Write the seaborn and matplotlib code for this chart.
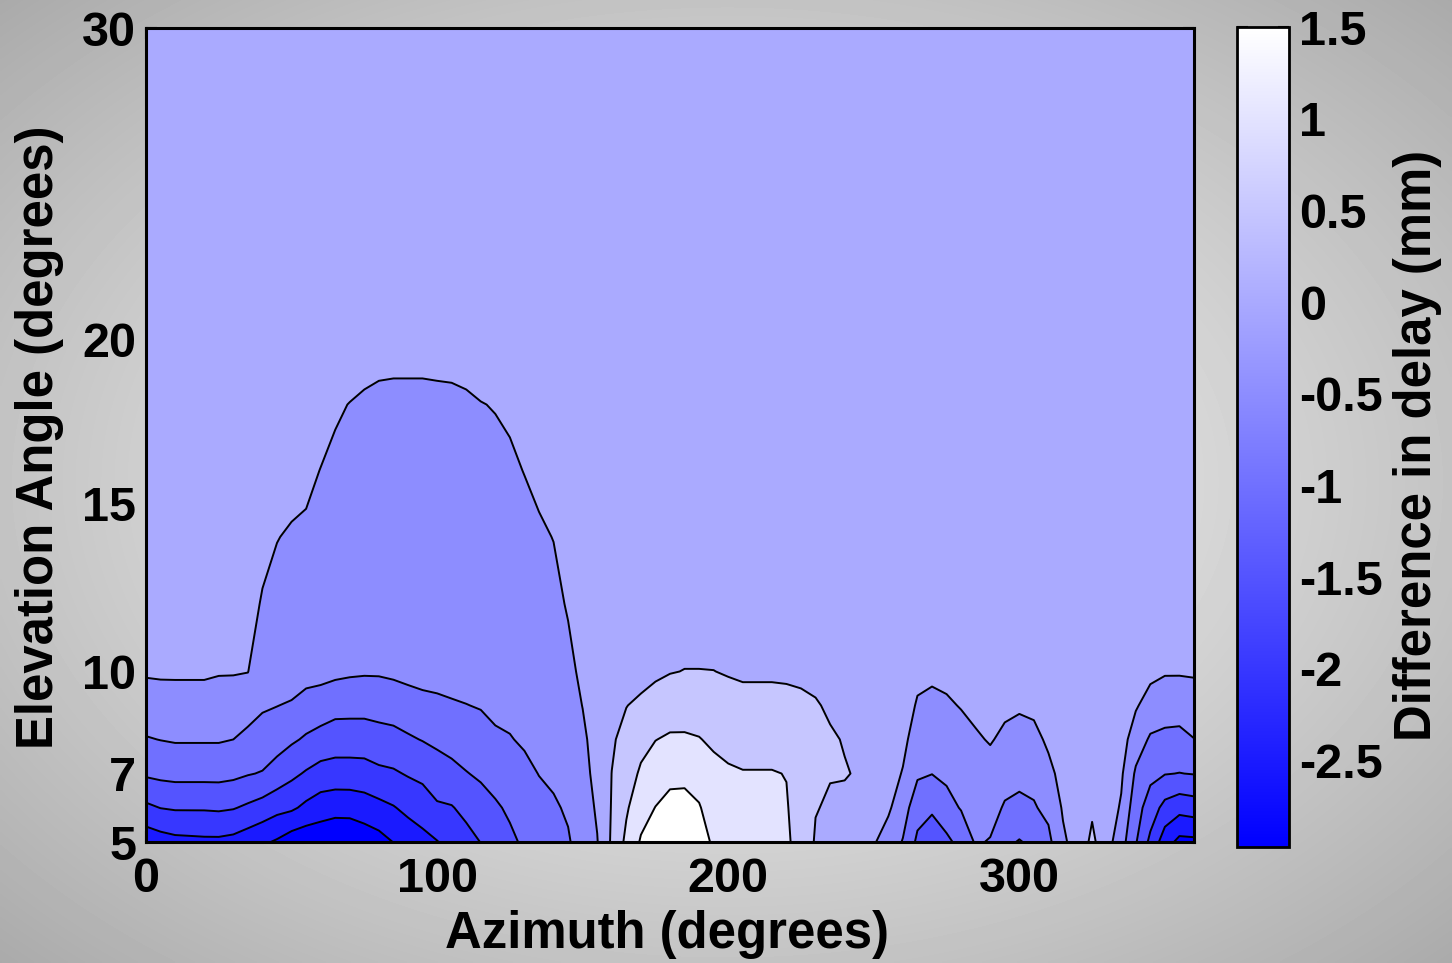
import numpy as np
import matplotlib
matplotlib.use("Agg")
import matplotlib.pyplot as plt
import seaborn as sns
from matplotlib.colors import Normalize
from matplotlib.cm import ScalarMappable
from matplotlib.ticker import FormatStrFormatter, NullLocator

# ---------------------------------------------------------------------------
# Delay difference (mm) on an azimuth x elevation grid
# ---------------------------------------------------------------------------
azimuth = np.arange(0, 361, 5)                       # degrees, 73 columns
elevation = [5, 6, 7, 8, 9, 10, 12, 14, 16, 18, 20, 30]  # degrees

el05 = [-2.33, -2.22, -2.14, -2.12, -2.10, -2.10, -2.15, -2.28, -2.42, -2.56, -2.77, -2.85,
        -2.85, -2.93, -2.93, -2.80, -2.68, -2.49, -2.30, -2.15, -2.02, -1.83, -1.67, -1.49,
        -1.29, -1.09, -0.93, -0.80, -0.67, -0.54, -0.31, -0.02, 0.57, 1.11, 1.55, 1.65,
        1.72, 1.72, 1.62, 1.46, 1.38, 1.30, 1.21, 1.12, 1.06, 0.85, 0.45, 0.37,
        0.26, 0.15, 0.04, -0.21, -0.53, -1.10, -1.12, -1.12, -0.83, -0.45, -0.53, -0.90,
        -1.03, -0.90, -0.62, -0.08, 0.20, 0.60, 0.20, -0.30, -0.96, -1.62, -2.27, -2.64,
        -2.62]
el06 = [-1.60, -1.49, -1.45, -1.45, -1.45, -1.43, -1.47, -1.58, -1.70, -1.85, -1.92, -2.11,
        -2.26, -2.32, -2.31, -2.24, -2.14, -2.03, -1.88, -1.77, -1.57, -1.53, -1.37, -1.20,
        -1.06, -0.93, -0.80, -0.63, -0.55, -0.45, -0.23, 0.06, 0.53, 0.94, 1.31, 1.51,
        1.57, 1.58, 1.53, 1.30, 1.20, 1.16, 1.11, 1.07, 1.03, 0.80, 0.52, 0.45,
        0.42, 0.30, 0.17, 0.07, -0.28, -0.80, -0.97, -0.66, -0.47, -0.35, -0.32, -0.55,
        -0.65, -0.54, -0.38, 0.05, 0.25, 0.43, 0.25, -0.05, -0.80, -1.23, -1.66, -1.83,
        -1.76]
el07 = [-0.93, -0.88, -0.85, -0.85, -0.85, -0.85, -0.89, -0.97, -1.03, -1.20, -1.39, -1.55,
        -1.69, -1.72, -1.72, -1.70, -1.60, -1.56, -1.46, -1.38, -1.21, -1.14, -1.02, -0.93,
        -0.83, -0.72, -0.60, -0.49, -0.43, -0.36, -0.16, 0.15, 0.505, 0.80, 1.06, 1.25,
        1.44, 1.44, 1.33, 1.14, 1.05, 1.02, 1.02, 1.02, 0.99, 0.78, 0.60, 0.52,
        0.52, 0.47, 0.27, 0.20, -0.03, -0.43, -0.49, -0.41, -0.31, -0.20, -0.15, -0.31,
        -0.33, -0.36, -0.12, 0.15, 0.25, 0.30, 0.25, 0.07, -0.57, -0.88, -0.98, -1.01,
        -0.98]
el08 = [-0.53, -0.49, -0.46, -0.46, -0.46, -0.46, -0.50, -0.62, -0.68, -0.80, -0.93, -1.06,
        -1.17, -1.25, -1.25, -1.25, -1.20, -1.15, -1.06, -0.98, -0.91, -0.82, -0.76, -0.70,
        -0.57, -0.52, -0.45, -0.40, -0.36, -0.28, -0.09, 0.20, 0.45, 0.63, 0.87, 0.99,
        1.06, 1.06, 1.02, 0.92, 0.88, 0.84, 0.84, 0.84, 0.82, 0.70, 0.60, 0.54,
        0.48, 0.40, 0.30, 0.25, 0.12, -0.23, -0.30, -0.23, -0.14, -0.05, 0.03, -0.08,
        -0.15, -0.13, 0.08, 0.22, 0.25, 0.25, 0.25, 0.20, -0.25, -0.56, -0.62, -0.64,
        -0.51]
el09 = [-0.22, -0.19, -0.18, -0.18, -0.18, -0.20, -0.23, -0.30, -0.45, -0.49, -0.55, -0.69,
        -0.74, -0.83, -0.84, -0.84, -0.80, -0.78, -0.71, -0.64, -0.61, -0.55, -0.51, -0.47,
        -0.40, -0.40, -0.38, -0.35, -0.30, -0.20, 0.01, 0.25, 0.35, 0.49, 0.58, 0.71,
        0.77, 0.78, 0.77, 0.72, 0.66, 0.63, 0.63, 0.63, 0.62, 0.58, 0.53, 0.45,
        0.38, 0.32, 0.28, 0.25, 0.20, -0.04, -0.10, -0.05, 0.02, 0.10, 0.20, 0.08,
        0.05, 0.10, 0.20, 0.25, 0.25, 0.25, 0.25, 0.25, 0.05, -0.20, -0.27, -0.28,
        -0.22]
el10 = [0.05, 0.06, 0.06, 0.06, 0.06, 0.03, 0.03, 0.01, -0.32, -0.40, -0.23, -0.31,
        -0.34, -0.39, -0.43, -0.45, -0.45, -0.41, -0.36, -0.33, -0.30, -0.30, -0.30, -0.35,
        -0.38, -0.35, -0.33, -0.30, -0.25, -0.12, 0.10, 0.25, 0.30, 0.35, 0.35, 0.41,
        0.48, 0.51, 0.51, 0.505, 0.47, 0.44, 0.44, 0.44, 0.43, 0.42, 0.40, 0.35,
        0.30, 0.27, 0.26, 0.25, 0.25, 0.10, 0.08, 0.10, 0.20, 0.25, 0.25, 0.25,
        0.25, 0.25, 0.25, 0.25, 0.25, 0.25, 0.25, 0.25, 0.25, 0.12, 0.04, 0.04,
        0.05]
el12 = [0.25, 0.25, 0.25, 0.25, 0.25, 0.25, 0.25, 0.25, -0.06, -0.20, -0.20, -0.27,
        -0.30, -0.33, -0.35, -0.36, -0.36, -0.37, -0.30, -0.30, -0.28, -0.27, -0.26, -0.26,
        -0.27, -0.25, -0.22, -0.18, -0.12, 0.04, 0.25, 0.25, 0.25, 0.25, 0.25, 0.25,
        0.25, 0.25, 0.25, 0.25, 0.25, 0.25, 0.25, 0.25, 0.25, 0.25, 0.25, 0.25,
        0.25, 0.25, 0.25, 0.25, 0.25, 0.25, 0.25, 0.25, 0.25, 0.25, 0.25, 0.25,
        0.25, 0.25, 0.25, 0.25, 0.25, 0.25, 0.25, 0.25, 0.25, 0.25, 0.25, 0.25,
        0.25]
el14 = [0.25, 0.25, 0.25, 0.25, 0.25, 0.25, 0.25, 0.25, 0.20, 0.02, -0.07, -0.08,
        -0.16, -0.21, -0.24, -0.25, -0.26, -0.27, -0.22, -0.22, -0.21, -0.20, -0.19, -0.18,
        -0.18, -0.15, -0.12, -0.06, 0.01, 0.25, 0.25, 0.25, 0.25, 0.25, 0.25, 0.25,
        0.25, 0.25, 0.25, 0.25, 0.25, 0.25, 0.25, 0.25, 0.25, 0.25, 0.25, 0.25,
        0.25, 0.25, 0.25, 0.25, 0.25, 0.25, 0.25, 0.25, 0.25, 0.25, 0.25, 0.25,
        0.25, 0.25, 0.25, 0.25, 0.25, 0.25, 0.25, 0.25, 0.25, 0.25, 0.25, 0.25,
        0.25]
el16 = [0.25, 0.25, 0.25, 0.25, 0.25, 0.25, 0.25, 0.25, 0.25, 0.25, 0.24, 0.11,
        -0.01, -0.08, -0.12, -0.14, -0.15, -0.15, -0.13, -0.13, -0.13, -0.12, -0.12, -0.10,
        -0.09, -0.06, 0.01, 0.10, 0.25, 0.25, 0.25, 0.25, 0.25, 0.25, 0.25, 0.25,
        0.25, 0.25, 0.25, 0.25, 0.25, 0.25, 0.25, 0.25, 0.25, 0.25, 0.25, 0.25,
        0.25, 0.25, 0.25, 0.25, 0.25, 0.25, 0.25, 0.25, 0.25, 0.25, 0.25, 0.25,
        0.25, 0.25, 0.25, 0.25, 0.25, 0.25, 0.25, 0.25, 0.25, 0.25, 0.25, 0.25,
        0.25]
el18 = [0.25, 0.25, 0.25, 0.25, 0.25, 0.25, 0.25, 0.25, 0.25, 0.25, 0.25, 0.25,
        0.20, 0.05, -0.01, -0.03, -0.04, -0.04, -0.04, -0.04, -0.04, -0.04, -0.03, -0.01,
        0.015, 0.06, 0.25, 0.25, 0.25, 0.25, 0.25, 0.25, 0.25, 0.25, 0.25, 0.25,
        0.25, 0.25, 0.25, 0.25, 0.25, 0.25, 0.25, 0.25, 0.25, 0.25, 0.25, 0.25,
        0.25, 0.25, 0.25, 0.25, 0.25, 0.25, 0.25, 0.25, 0.25, 0.25, 0.25, 0.25,
        0.25, 0.25, 0.25, 0.25, 0.25, 0.25, 0.25, 0.25, 0.25, 0.25, 0.25, 0.25,
        0.25]
el20 = [0.25, 0.25, 0.25, 0.25, 0.25, 0.25, 0.25, 0.25, 0.25, 0.25, 0.25, 0.25,
        0.25, 0.25, 0.25, 0.10, 0.07, 0.06, 0.06, 0.06, 0.07, 0.08, 0.10, 0.20,
        0.25, 0.25, 0.25, 0.25, 0.25, 0.25, 0.25, 0.25, 0.25, 0.25, 0.25, 0.25,
        0.25, 0.25, 0.25, 0.25, 0.25, 0.25, 0.25, 0.25, 0.25, 0.25, 0.25, 0.25,
        0.25, 0.25, 0.25, 0.25, 0.25, 0.25, 0.25, 0.25, 0.25, 0.25, 0.25, 0.25,
        0.25, 0.25, 0.25, 0.25, 0.25, 0.25, 0.25, 0.25, 0.25, 0.25, 0.25, 0.25,
        0.25]
el30 = [0.25, 0.25, 0.25, 0.25, 0.25, 0.25, 0.25, 0.25, 0.25, 0.25, 0.25, 0.25,
        0.25, 0.25, 0.25, 0.25, 0.25, 0.25, 0.25, 0.25, 0.25, 0.25, 0.25, 0.25,
        0.25, 0.25, 0.25, 0.25, 0.25, 0.25, 0.25, 0.25, 0.25, 0.25, 0.25, 0.25,
        0.25, 0.25, 0.25, 0.25, 0.25, 0.25, 0.25, 0.25, 0.25, 0.25, 0.25, 0.25,
        0.25, 0.25, 0.25, 0.25, 0.25, 0.25, 0.25, 0.25, 0.25, 0.25, 0.25, 0.25,
        0.25, 0.25, 0.25, 0.25, 0.25, 0.25, 0.25, 0.25, 0.25, 0.25, 0.25, 0.25,
        0.25]

contour_levels = [-2.5, -2.0, -1.5, -1.0, -0.5, 0.0, 0.5, 1.0, 1.5]
cbar_ticks = [-2.5, -2.0, -1.5, -1.0, -0.5, 0.0, 0.5, 1.0, 1.5]
x_ticks = [0, 100, 200, 300]
y_ticks = [5, 7, 10, 15, 20, 30]
c_min, c_max = -2.97, 1.5

delay = np.array([el05, el06, el07, el08, el09, el10, el12, el14, el16, el18, el20, el30])

# ---------------------------------------------------------------------------
# Style
# ---------------------------------------------------------------------------
sns.set_style("ticks")
plt.rcParams["font.family"] = ["Liberation Sans", "DejaVu Sans"]
plt.rcParams["font.weight"] = "bold"
plt.rcParams["axes.unicode_minus"] = False
plt.rcParams["contour.negative_linestyle"] = "solid"
for key in ("text.color", "axes.labelcolor", "xtick.color", "ytick.color",
            "xtick.labelcolor", "ytick.labelcolor"):
    plt.rcParams[key] = "black"

TICK_FS = 35
LABEL_FS = 36.6

W, H = 1452, 963
fig = plt.figure(figsize=(W / 100, H / 100), dpi=100)

# grey radial backdrop
bg = fig.add_axes([0, 0, 1, 1], zorder=-10)
yy, xx = np.mgrid[0:H:3, 0:W:3]
rad = np.hypot((xx - 0.5 * W) / (0.5 * W), (yy - 0.5 * H) / (0.5 * H)) / np.sqrt(2)
shade = 240 - 70 * rad ** 1.3
bg.imshow(shade, cmap="gray", vmin=0, vmax=255, extent=[0, 1, 0, 1],
          aspect="auto", interpolation="bilinear")
bg.set_axis_off()

# blue -> white colour map
cmap = sns.blend_palette(["#0000FF", "#FFFFFF"], n_colors=256, as_cmap=True)
norm = Normalize(c_min, c_max)

# each filled band takes the colour of its lower bound
fill_levels = [-3.0] + contour_levels + [2.0]
band_colors = [cmap(np.clip(norm(lo), 0, 1)) for lo in fill_levels[:-1]]


def sin_deg(e):
    return np.sin(np.radians(e))


def asin_deg(s):
    return np.degrees(np.arcsin(np.clip(s, -1, 1)))


ax = fig.add_axes([146 / W, 1 - 842 / H, 1048 / W, 814 / H])
ax.set_yscale("function", functions=(sin_deg, asin_deg))
ax.contourf(azimuth, elevation, delay, levels=fill_levels, colors=band_colors)
ax.contour(azimuth, elevation, delay, levels=contour_levels, colors="k",
           linewidths=1.4, linestyles="solid")

ax.set_xlim(0, 360)
ax.set_ylim(5, 30)
ax.set_xticks(x_ticks)
ax.set_yticks(y_ticks)
ax.yaxis.set_minor_locator(NullLocator())
ax.xaxis.set_minor_locator(NullLocator())
ax.xaxis.set_major_formatter(FormatStrFormatter("%g"))
ax.yaxis.set_major_formatter(FormatStrFormatter("%g"))
ax.tick_params(axis="both", direction="in", top=True, right=True,
               length=8, width=1.5, labelsize=TICK_FS, colors="black")
ax.tick_params(axis="x", pad=11)
ax.tick_params(axis="y", pad=7)
for sp in ax.spines.values():
    sp.set_linewidth(2.2)
    sp.set_color("black")
    sp.set_visible(True)

# colour bar
cax = fig.add_axes([1237 / W, 1 - 846.7 / H, 52 / W, 819.4 / H])
sm = ScalarMappable(norm=norm, cmap=cmap)
cb = fig.colorbar(sm, cax=cax, ticks=cbar_ticks)
cb.outline.set_linewidth(2.0)
cb.outline.set_edgecolor("black")
cb.ax.yaxis.set_major_formatter(FormatStrFormatter("%g"))
cb.ax.tick_params(direction="in", left=True, right=True, length=8, width=1.5,
                  labelsize=TICK_FS, pad=7, colors="black")

# axis titles
fig.text(667 / W, 1 - 934 / H, "Azimuth (degrees)", ha="center", va="center",
         fontsize=LABEL_FS, fontweight="bold", color="black")
fig.text(40 / W, 1 - 437 / H, "Elevation Angle (degrees)", ha="center", va="center",
         rotation=90, fontsize=LABEL_FS, fontweight="bold", color="black")
fig.text(1418 / W, 1 - 445 / H, "Difference in delay (mm)", ha="center", va="center",
         rotation=90, fontsize=LABEL_FS, fontweight="bold", color="black")

fig.savefig("out.png", dpi=100)
